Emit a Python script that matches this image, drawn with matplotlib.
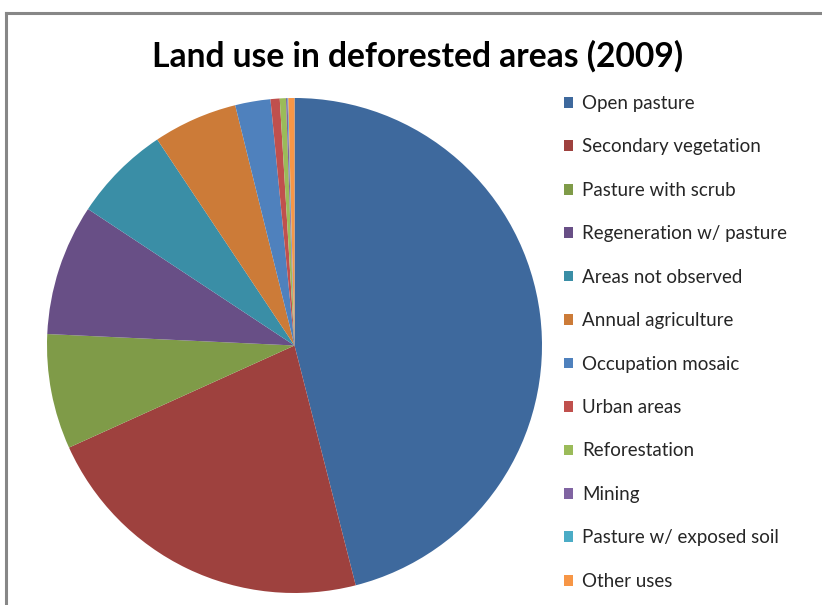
import matplotlib
matplotlib.use("Agg")
import matplotlib.pyplot as plt
from matplotlib.lines import Line2D

categories = [
    "Open pasture",
    "Secondary vegetation",
    "Pasture with scrub",
    "Regeneration w/ pasture",
    "Areas not observed",
    "Annual agriculture",
    "Occupation mosaic",
    "Urban areas",
    "Reforestation",
    "Mining",
    "Pasture w/ exposed soil",
    "Other uses",
]
shares = [46.0, 22.2, 7.5, 8.55, 6.35, 5.5, 2.3, 0.6, 0.4, 0.1, 0.05, 0.4]
colors = [
    "#3e699d", "#9e413e", "#7f9b48", "#684f86", "#3a8ea6", "#cc7b38",
    "#4f81bd", "#c0504d", "#9bbb59", "#8064a2", "#4bacc6", "#f79646",
]

W, H = 822, 605
fig = plt.figure(figsize=(W / 100, H / 100), dpi=100)

# chart frame (clipped at right and bottom)
frame_kw = dict(color="#878787", linewidth=2.2, transform=fig.transFigure)
fig.add_artist(Line2D([6 / W, 6 / W], [1 - 13 / H, 0], **frame_kw))
fig.add_artist(Line2D([6 / W, 1], [1 - 13 / H, 1 - 13 / H], **frame_kw))

fig.text(418 / W, 1 - 56 / H, "Land use in deforested areas (2009)",
         ha="center", va="center", fontsize=24.2, fontweight="bold",
         family="Lato", color="#000000")

cx, cy, r = 294.5, 345.5, 247.5
ax = fig.add_axes([(cx - r) / W, (H - cy - r) / H, 2 * r / W, 2 * r / H])
wedges, _ = ax.pie(shares, colors=colors, startangle=90, counterclock=False,
                   wedgeprops=dict(linewidth=0))
ax.set_xlim(-1, 1)
ax.set_ylim(-1, 1)
ax.set_aspect("equal")

leg = fig.legend(wedges, categories, loc="upper left",
                 bbox_to_anchor=(564 / W, 1 - 95 / H),
                 frameon=False,
                 prop=dict(family="Lato", size=13.5),
                 handlelength=0.5, handleheight=0.5, handletextpad=0.45,
                 labelspacing=1.41, borderpad=0, borderaxespad=0)
for t in leg.get_texts():
    t.set_color("#262626")

fig.savefig("out.png", dpi=100)
